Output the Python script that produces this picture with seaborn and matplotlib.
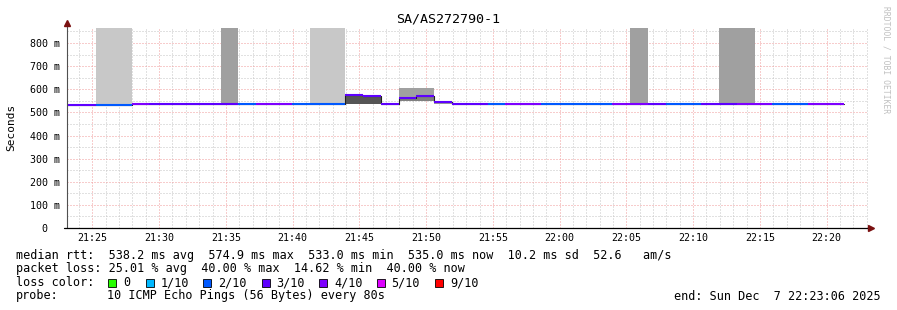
import numpy as np
import pandas as pd
import matplotlib
matplotlib.use("Agg")
import matplotlib.pyplot as plt
import matplotlib.dates as mdates
from matplotlib.ticker import MultipleLocator
from matplotlib.patches import Rectangle
import seaborn as sns

# ---------------- data ----------------
title = "SA/AS272790-1"
y_label = "Seconds"
watermark = "RRDTOOL / TOBI OETIKER"
view_start = "2025-12-07 21:23:06"
view_end = "2025-12-07 22:23:06"
first_probe = "2025-12-07 21:22:36"
probe_interval_s = 80

# median RTT per probe (ms)
median_ms = [533, 533, 534, 534, 537, 537, 537, 536, 536, 537,
             536, 537, 537, 536, 536, 536, 575, 571, 536, 561,
             572, 545, 536, 536, 536, 537, 537, 536, 536, 536,
             536, 537, 537, 537, 536, 536, 537, 537, 537, 537,
             536, 536, 536, 535]
# lost pings (of 10) per probe
lost_pings = [3, 3, 2, 2, 4, 3, 3, 3, 3, 3,
              2, 4, 4, 2, 2, 2, 3, 3, 3, 3,
              3, 3, 3, 3, 2, 4, 4, 2, 2, 2,
              2, 4, 4, 3, 2, 2, 3, 3, 4, 4,
              2, 2, 4, 4]

# smoke (ping spread) bands: probe index, low, high (ms), shade
smoke_step = [2, 3, 9, 14, 15, 16, 17, 19, 20, 21, 32, 37, 38]
smoke_lo = [534, 534, 536, 536, 536, 538, 538, 548, 548, 536, 537, 537, 537]
smoke_hi = [900, 900, 900, 900, 900, 575, 571, 604, 604, 545, 900, 900, 900]
smoke_gray = ["#c8c8c8", "#c8c8c8", "#a0a0a0", "#c8c8c8", "#c8c8c8",
              "#555555", "#555555", "#a0a0a0", "#a0a0a0", "#a0a0a0",
              "#a0a0a0", "#a0a0a0", "#a0a0a0"]
core_step = [19, 20]
core_lo = [549, 549]
core_hi = [559, 570]
core_gray = "#808080"

loss_counts = [0, 1, 2, 3, 4, 5, 9]
loss_labels = ["0", "1/10", "2/10", "3/10", "4/10", "5/10", "9/10"]
loss_colors = ["#26ff00", "#00b8ff", "#0059ff", "#5e00ff", "#7e00ff", "#dd00ff", "#ff0000"]

y_ticks = [0, 100, 200, 300, 400, 500, 600, 700, 800]
y_tick_labels = ["0  ", "100 m", "200 m", "300 m", "400 m", "500 m", "600 m", "700 m", "800 m"]

line_rtt = "median rtt:  538.2 ms avg  574.9 ms max  533.0 ms min  535.0 ms now  10.2 ms sd  52.6   am/s"
line_loss = "packet loss: 25.01 % avg  40.00 % max  14.62 % min  40.00 % now"
line_color_head = "loss color:"
line_probe_head = "probe:"
line_probe = "10 ICMP Echo Pings (56 Bytes) every 80s"
line_end = "end: Sun Dec  7 22:23:06 2025"

# ---------------- style ----------------
sns.set_theme(style="white")
plt.rcParams["font.family"] = ["DejaVu Sans Mono", "DejaVu Sans"]

W, H = 897, 310
fig = plt.figure(figsize=(W / 100, H / 100), dpi=100)
fig.patch.set_facecolor("white")
ax = fig.add_axes([67 / W, 1 - 228 / H, 801 / W, 200 / H])
ax.set_facecolor("white")

t0 = mdates.date2num(pd.Timestamp(first_probe))
step_d = probe_interval_s / 86400.0
n = len(median_ms)
t_start = t0 + np.arange(n) * step_d
t_end = t_start + step_d

lab_of = dict(zip(loss_counts, loss_labels))
pal = dict(zip(loss_labels, loss_colors))

# smoke
s_idx = np.array(smoke_step)
ax.bar(t_start[s_idx], np.array(smoke_hi) - np.array(smoke_lo), width=step_d,
       bottom=smoke_lo, align="edge", color=smoke_gray, linewidth=0, zorder=2)
c_idx = np.array(core_step)
ax.bar(t_start[c_idx], np.array(core_hi) - np.array(core_lo), width=step_d,
       bottom=core_lo, align="edge", color=core_gray, linewidth=0, zorder=2.5)

# thin step line (vertical transitions)
sns.lineplot(x=np.append(t_start, t_end[-1]), y=median_ms + [median_ms[-1]],
             drawstyle="steps-post", color="#202020", lw=0.8, ax=ax, zorder=3,
             estimator=None)

# coloured median segments
seg = pd.DataFrame({
    "t": np.concatenate([t_start, t_end]),
    "rtt": median_ms * 2,
    "loss": [lab_of[v] for v in lost_pings] * 2,
    "step": list(range(n)) * 2,
})
sns.lineplot(data=seg, x="t", y="rtt", hue="loss", units="step", estimator=None,
             palette=pal, lw=1.5, legend=False, ax=ax, zorder=4,
             solid_capstyle="butt")

ax.set_xlim(mdates.date2num(pd.Timestamp(view_start)), mdates.date2num(pd.Timestamp(view_end)))
ax.set_ylim(0, 865)
ax.set_xlabel("")
ax.set_ylabel("")

ax.set_yticks(y_ticks)
ax.set_yticklabels(y_tick_labels)
ax.yaxis.set_minor_locator(MultipleLocator(50))
ax.xaxis.set_major_locator(mdates.MinuteLocator(byminute=range(0, 60, 5)))
ax.xaxis.set_minor_locator(mdates.MinuteLocator())
ax.xaxis.set_major_formatter(mdates.DateFormatter("%H:%M"))

ax.set_axisbelow(True)
ax.grid(which="minor", color="#c4c4c4", linestyle=(0, (1, 2)), linewidth=0.72)
ax.grid(which="major", color="#f09a9a", linestyle=(0, (1, 2)), linewidth=0.72)

for s in ax.spines.values():
    s.set_visible(False)
ax.tick_params(axis="y", which="major", length=0, pad=5, labelsize=7.2, labelcolor="black")
ax.tick_params(axis="x", which="major", length=0, pad=3.5, labelsize=7.2, labelcolor="black")
ax.tick_params(which="minor", length=0)

# axis lines + arrows
ax.plot([0, 0], [0, 1.03], transform=ax.transAxes, color="#505050", lw=0.8, clip_on=False, zorder=6)
ax.plot([-0.004, 1.0], [0, 0], transform=ax.transAxes, color="black", lw=0.9, clip_on=False, zorder=6)
ax.plot([1.004], [0], marker=">", ms=4, color="#7a1010", transform=ax.transAxes, clip_on=False, zorder=7)
ax.plot([0], [1.027], marker="^", ms=4, color="#7a1010", transform=ax.transAxes, clip_on=False, zorder=7)

# texts
fig.text(448 / W, 1 - 19 / H, title, ha="center", va="center", fontsize=9.6, color="black")
fig.text(11 / W, 1 - 127 / H, y_label, rotation=90, ha="center", va="center", fontsize=8, color="black")
fig.text(886 / W, 1 - 60 / H, watermark, rotation=270, ha="center", va="center", fontsize=5.8, color="#c0c0c0")

fs = 8.5
fig.text(16 / W, 1 - 255 / H, line_rtt, ha="left", va="center", fontsize=fs, color="black")
fig.text(16 / W, 1 - 268.5 / H, line_loss, ha="left", va="center", fontsize=fs, color="black")
fig.text(16 / W, 1 - 282.5 / H, line_color_head, ha="left", va="center", fontsize=fs, color="black")
fig.text(16 / W, 1 - 296 / H, line_probe_head, ha="left", va="center", fontsize=fs, color="black")
fig.text(107 / W, 1 - 296 / H, line_probe, ha="left", va="center", fontsize=fs, color="black")
fig.text(881 / W, 1 - 296 / H, line_end, ha="right", va="center", fontsize=fs, color="black")

box_x = [108, 146, 203, 262, 319, 377, 435]
lab_x = [123, 160.5, 218, 276.5, 334, 391.5, 450]
for bx, lx, lab, col in zip(box_x, lab_x, loss_labels, loss_colors):
    fig.add_artist(Rectangle((bx / W, 1 - 286.5 / H), 8 / W, 8 / H, transform=fig.transFigure,
                             facecolor=col, edgecolor="black", linewidth=0.6))
    fig.text(lx / W, 1 - 282.5 / H, lab, ha="left", va="center", fontsize=fs, color="black")

fig.savefig("out.png", dpi=100, facecolor="white")
